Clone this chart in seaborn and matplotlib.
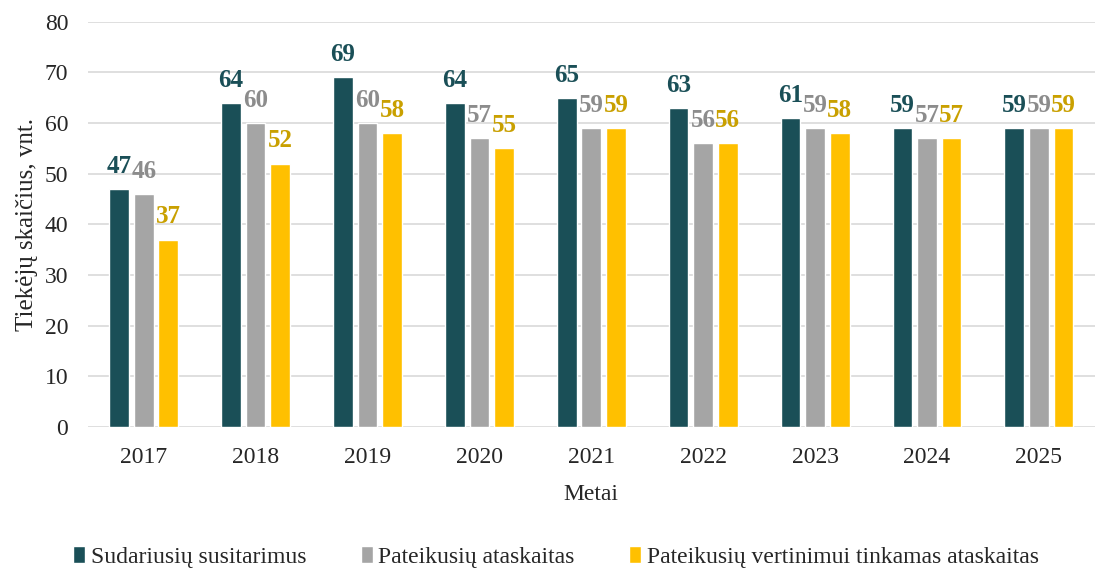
import pandas as pd
import seaborn as sns
import matplotlib.pyplot as plt

years = ["2017", "2018", "2019", "2020", "2021", "2022", "2023", "2024", "2025"]
sudariusiu = [47, 64, 69, 64, 65, 63, 61, 59, 59]
pateikusiu = [46, 60, 60, 57, 59, 56, 59, 57, 59]
tinkamas = [37, 52, 58, 55, 59, 56, 58, 57, 59]

series = ["Sudariusių susitarimus", "Pateikusių ataskaitas",
          "Pateikusių vertinimui tinkamas ataskaitas"]
bar_colors = ["#1A4F57", "#A5A5A5", "#FFC000"]
label_colors = ["#1A4F57", "#8C8C8C", "#C9A000"]

df = pd.DataFrame({"Metai": years * 3,
                   "Value": sudariusiu + pateikusiu + tinkamas,
                   "Series": [s for s in series for _ in years]})

sns.set_style("white")
plt.rcParams["font.family"] = ["Liberation Serif", "DejaVu Serif"]

fig, ax = plt.subplots(figsize=(10.97, 5.71), dpi=100)
sns.barplot(data=df, x="Metai", y="Value", hue="Series", hue_order=series,
            palette=bar_colors, width=0.66, gap=0.2, saturation=1,
            legend=True, ax=ax, zorder=3)

for cont, col in zip(ax.containers, label_colors):
    ax.bar_label(cont, color=col, fontsize=18, fontweight="bold", padding=8)

ax.set_ylim(0, 80)
ax.set_xlim(-0.5, 8.5)
ax.set_yticks(range(0, 81, 10))
ax.yaxis.grid(True, color="#D9D9D9", linewidth=1.2, zorder=0)
ax.set_axisbelow(True)
for s in ax.spines.values():
    s.set_visible(False)
ax.tick_params(axis="y", length=0, labelsize=17, pad=14)
ax.tick_params(axis="x", length=0, labelsize=17, pad=14)
ax.set_xlabel("Metai", fontsize=17, labelpad=12)
ax.set_ylabel("Tiekėjų skaičius, vnt.", fontsize=18, labelpad=5)

ax.legend(loc="lower center", bbox_to_anchor=(0.465, -0.4), ncol=3, frameon=False,
          fontsize=17, handlelength=0.5, handleheight=0.7, handletextpad=0.25,
          columnspacing=2.3)

plt.subplots_adjust(left=0.08, right=0.998, top=0.962, bottom=0.252)
plt.savefig("out.png", dpi=100)
